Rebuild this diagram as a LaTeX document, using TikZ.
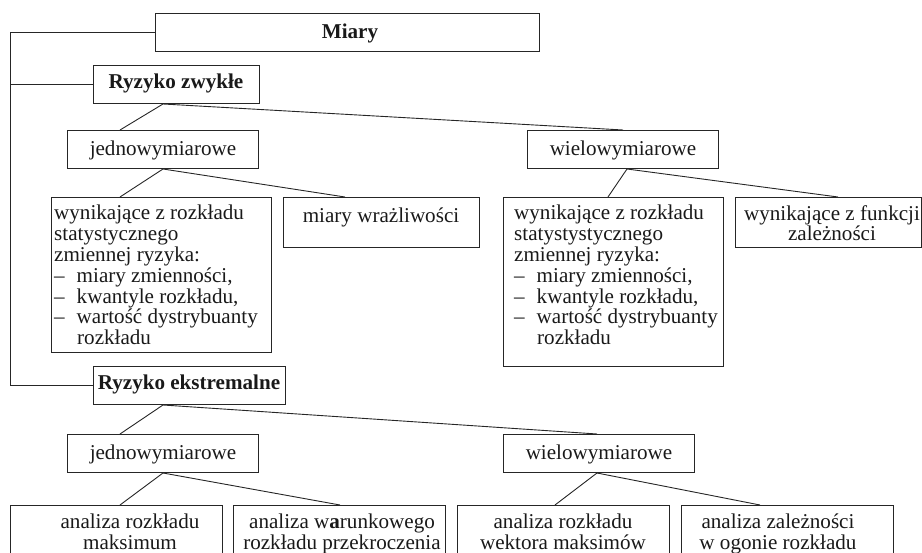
\documentclass[tikz,border=0pt]{standalone}
\usepackage{fontspec}
\setmainfont{Liberation Serif}
\usetikzlibrary{calc}
\newcommand{\dashitem}{–\hspace*{12pt}}
\begin{document}
\begin{tikzpicture}[x=1pt,y=-1pt,
  box/.style={draw=black!85, line width=1pt, inner sep=0pt, anchor=north west},
  conn/.style={draw=black!85, line width=0.9pt},
  txt/.style={font=\fontsize{21.1}{20.8}\selectfont, inner sep=0pt, text=black!90},
  btxt/.style={txt, font=\fontsize{21.1}{20.8}\selectfont\bfseries}]
\useasboundingbox (0,0) rectangle (922,553);
\clip (0,0) rectangle (922,553);
% boxes
\node[box, minimum width=384pt, minimum height=38pt] (miary) at (155,13) {};
\node[box, minimum width=166pt, minimum height=38pt] (rz) at (93,65) {};
\node[box, minimum width=191pt, minimum height=38pt] (j1) at (67,130) {};
\node[box, minimum width=191pt, minimum height=38pt] (w1) at (527,130) {};
\node[box, minimum width=220pt, minimum height=155pt] (L1) at (51,197) {};
\node[box, minimum width=196pt, minimum height=50pt] (MW) at (283,197) {};
\node[box, minimum width=220pt, minimum height=169pt] (R1) at (503,197) {};
\node[box, minimum width=186pt, minimum height=50pt] (R2) at (735,197) {};
\node[box, minimum width=192pt, minimum height=38pt] (re) at (93,366) {};
\node[box, minimum width=191pt, minimum height=38pt] (j2) at (67,434) {};
\node[box, minimum width=191pt, minimum height=38pt] (w2) at (503,434) {};
\node[box, minimum width=212pt, minimum height=70pt] (B1) at (10,505) {};
\node[box, minimum width=212pt, minimum height=70pt] (B2) at (233,505) {};
\node[box, minimum width=212pt, minimum height=70pt] (B3) at (457,505) {};
\node[box, minimum width=212pt, minimum height=70pt] (B4) at (681,505) {};
% texts
\node[btxt, anchor=base] (tmiary) at (350,39) {Miary};
\node[btxt, anchor=base] (trz) at (176,89) {Ryzyko zwykłe};
\node[txt, anchor=base] (tj1) at (163,156) {jednowymiarowe};
\node[txt, anchor=base] (tw1) at (623,156) {wielowymiarowe};
\node[txt, anchor=north west, align=left] (tL1) at (54,205) {wynikające z rozkładu\\statystycznego\\zmiennej ryzyka:\\\dashitem miary zmienności,\\\dashitem kwantyle rozkładu,\\\dashitem wartość dystrybuanty\\\hspace*{23pt}rozkładu};
\node[txt, anchor=base] (tMW) at (381,223) {miary wrażliwości};
\node[txt, anchor=north west, align=left] (tR1) at (514,205) {wynikające z rozkładu\\statystystycznego\\zmiennej ryzyka:\\\dashitem miary zmienności,\\\dashitem kwantyle rozkładu,\\\dashitem wartość dystrybuanty\\\hspace*{23pt}rozkładu};
\node[txt, anchor=north, align=center] (tR2) at (832,205) {wynikające z funkcji\\zależności};
\node[btxt, anchor=base] (tre) at (189,390) {Ryzyko ekstremalne};
\node[txt, anchor=base] (tj2) at (163,460) {jednowymiarowe};
\node[txt, anchor=base] (tw2) at (599,460) {wielowymiarowe};
\node[txt, anchor=north, align=center] (tB1) at (130,514) {analiza rozkładu\\maksimum};
\node[txt, anchor=north, align=center] (tB2) at (342,514) {analiza w\textbf{a}runkowego\\rozkładu przekroczenia};
\node[txt, anchor=north, align=center] (tB3) at (563,514) {analiza rozkładu\\wektora maksimów};
\node[txt, anchor=north, align=center] (tB4) at (778,514) {analiza zależności\\w ogonie rozkładu};
% spine
\coordinate (sp) at (10,0);
\draw[conn] (miary.west) -| (sp |- re.west) -- (re.west);
\draw[conn] (sp |- rz.west) -- (rz.west);
% connectors
\draw[conn] ([xshift=70pt]rz.south west) -- ([xshift=53pt]j1.north west);
\draw[conn] ([xshift=70pt]rz.south west) -- ([xshift=96pt]w1.north west);
\draw[conn] (j1.south) -- ([xshift=69pt]L1.north west);
\draw[conn] (j1.south) -- ([xshift=62pt]MW.north west);
\draw[conn] ([xshift=100pt]w1.south west) -- ([xshift=105pt]R1.north west);
\draw[conn] ([xshift=100pt]w1.south west) -- ([xshift=103pt]R2.north west);
\draw[conn] ([xshift=70pt]re.south west) -- ([xshift=53pt]j2.north west);
\draw[conn] ([xshift=70pt]re.south west) -- ([xshift=94pt]w2.north west);
\draw[conn] (j2.south) -- ([xshift=110pt]B1.north west);
\draw[conn] (j2.south) -- ([xshift=107pt]B2.north west);
\draw[conn] ([xshift=94pt]w2.south west) -- ([xshift=98pt]B3.north west);
\draw[conn] ([xshift=94pt]w2.south west) -- ([xshift=79pt]B4.north west);
\end{tikzpicture}
\end{document}
